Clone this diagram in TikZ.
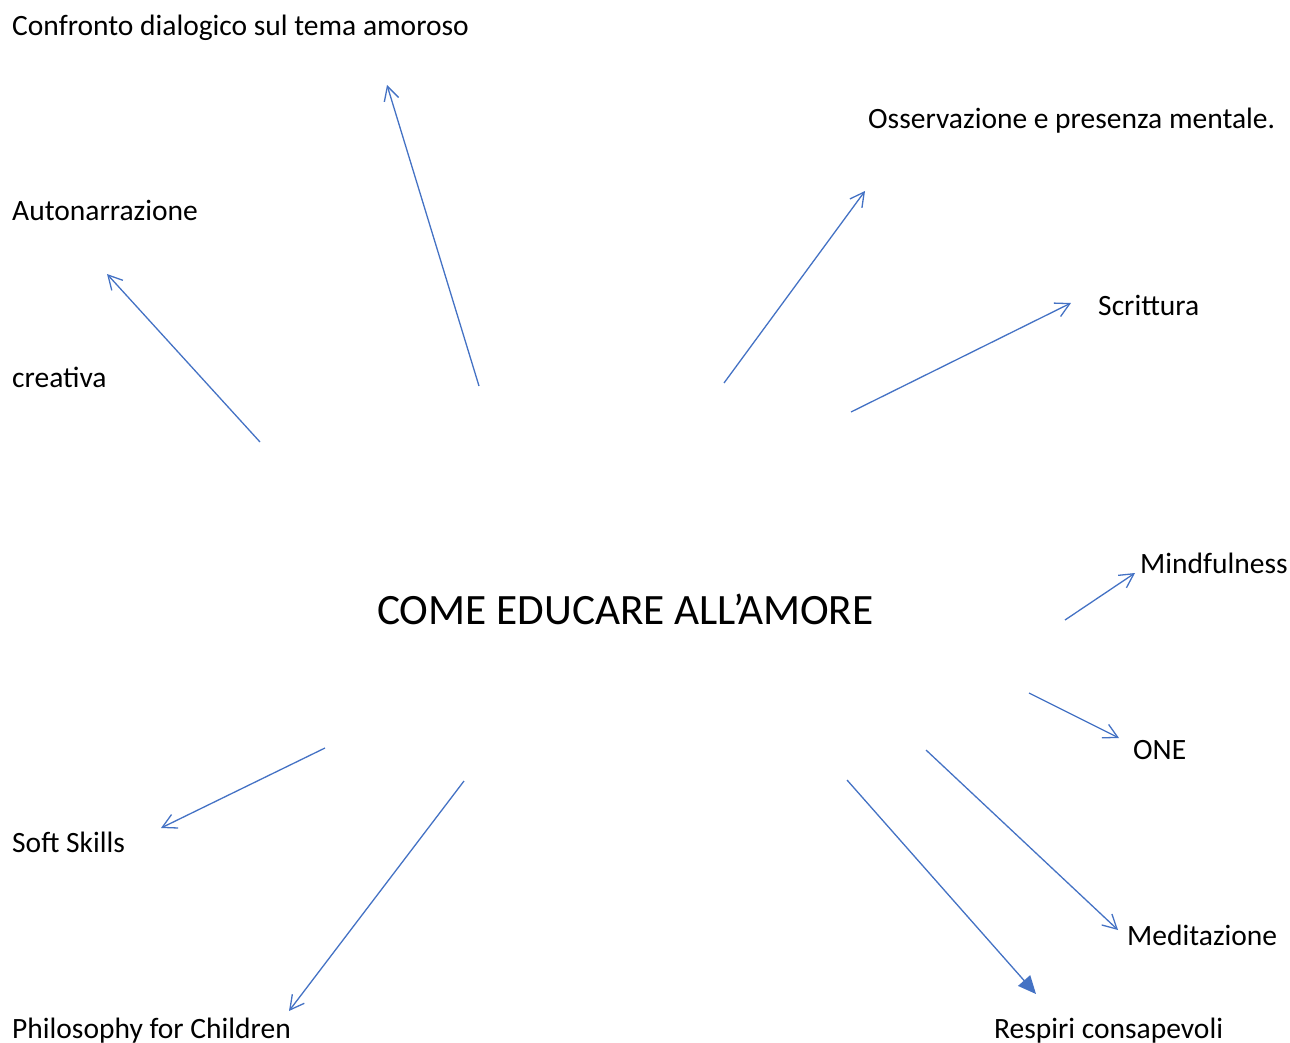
\documentclass[tikz,border=0pt]{standalone}
\usepackage{fontspec}
\setmainfont{Carlito}
\usetikzlibrary{arrows.meta}
\definecolor{arrowblue}{RGB}{68,114,196}
\tikzset{
  lbl/.style={anchor=base west, inner sep=0pt, font=\fontsize{29.5}{35}\selectfont, text=black},
  ttl/.style={anchor=base west, inner sep=0pt, font=\fontsize{43.3}{50}\selectfont, text=black},
  conn/.style={draw=arrowblue, line width=1.3pt, -{Straight Barb[length=14pt,width=15pt,line width=1.3pt]}},
  connfill/.style={draw=arrowblue, line width=1.3pt, -{Triangle[length=18pt,width=16pt]}, fill=arrowblue},
}
\begin{document}
\begin{tikzpicture}[x=1pt,y=-1pt]
\useasboundingbox (0,0) rectangle (1290,1043);
\node[lbl] (confronto) at (12,36) {Confronto dialogico sul tema amoroso};
\node[lbl] (osserv) at (868,129) {Osservazione e presenza mentale.};
\node[lbl] (auton) at (12,221) {Autonarrazione};
\node[lbl] (scritt) at (1098,315) {Scrittura};
\node[lbl] (creat) at (12,387) {creativa};
\node[lbl] (mindf) at (1140,573) {Mindfulness};
\node[ttl] (title) at (377,624) {COME EDUCARE ALL’AMORE};
\node[lbl] (one) at (1133,759) {ONE};
\node[lbl] (soft) at (12,852) {Soft Skills};
\node[lbl] (medit) at (1127,945) {Meditazione};
\node[lbl] (philo) at (12,1038) {Philosophy for Children};
\node[lbl] (respiri) at (994,1038) {Respiri consapevoli};

\coordinate (s1) at (479,386); \coordinate (e1) at (387,85);
\coordinate (s2) at (260,442); \coordinate (e2) at (107,274);
\coordinate (s3) at (724,383); \coordinate (e3) at (865,191);
\coordinate (s4) at (851,412); \coordinate (e4) at (1071,303);
\coordinate (s5) at (1065,620); \coordinate (e5) at (1135,573);
\coordinate (s6) at (1029,693); \coordinate (e6) at (1119,738);
\coordinate (s7) at (926,750); \coordinate (e7) at (1118,930);
\coordinate (s8) at (847,780); \coordinate (e8) at (1036,994);
\coordinate (s9) at (325,748); \coordinate (e9) at (161,828);
\coordinate (s10) at (464,781); \coordinate (e10) at (289,1011);

\draw[conn] (s1) -- (e1);
\draw[conn] (s2) -- (e2);
\draw[conn] (s3) -- (e3);
\draw[conn] (s4) -- (e4);
\draw[conn] (s5) -- (e5);
\draw[conn] (s6) -- (e6);
\draw[conn] (s7) -- (e7);
\draw[connfill] (s8) -- (e8);
\draw[conn] (s9) -- (e9);
\draw[conn] (s10) -- (e10);
\end{tikzpicture}
\end{document}
